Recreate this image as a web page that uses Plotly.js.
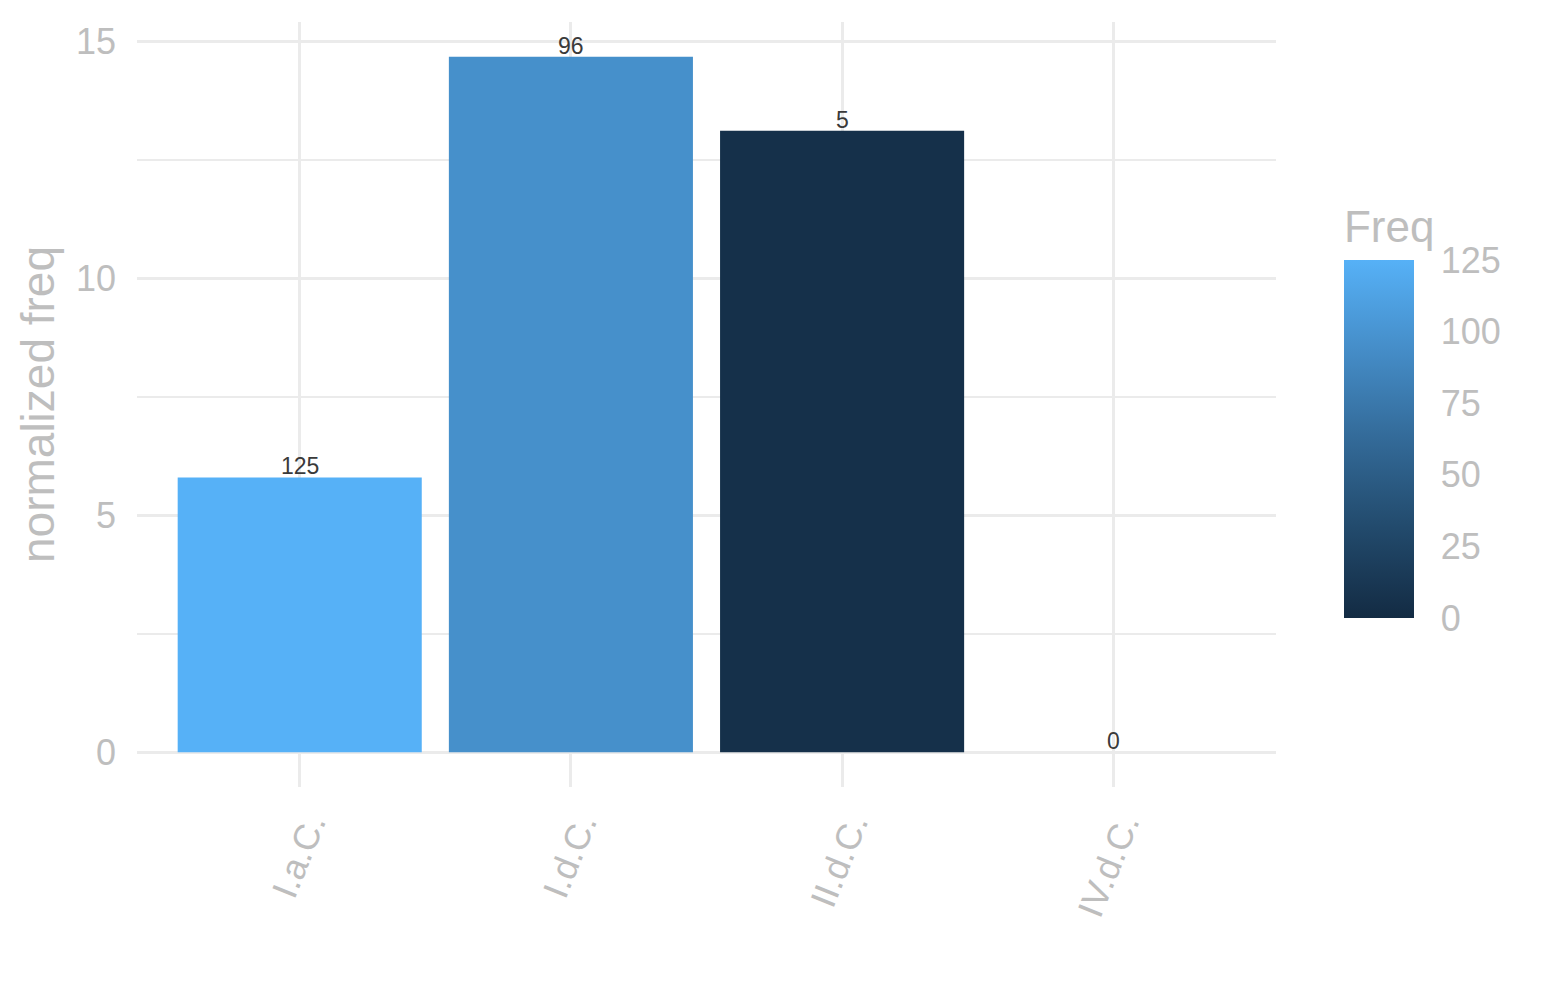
<!doctype html>
<html lang="en">
<head>
    <meta charset="UTF-8">
    <title>normalized freq</title>
    <script src="https://cdn.plot.ly/plotly-3.0.1.min.js"></script>
    <style>
        body { margin: 0; background: white; }
        #chart { width: 1545px; height: 1000px; }
    </style>
</head>
<body>
    <div id="chart"></div>
    <script>
        // data
        var categories = ["I.a.C.", "I.d.C.", "II.d.C.", "IV.d.C."];
        var normFreq = [5.80, 14.68, 13.12, 0];
        var freq = [125, 96, 5, 0];
        var freqTicks = [0, 25, 50, 75, 100, 125];

        var grey = "#BEBEBE";
        var grid = "#EBEBEB";
        var font = "Liberation Sans, Arial, sans-serif";

        // ggplot-ish default blue gradient
        var scale = [
            [0, "#132B43"],
            [0.25, "#224A6C"],
            [0.5, "#336A98"],
            [0.75, "#458DC8"],
            [1, "#56B1F7"]
        ];

        var bars = {
            type: "bar",
            x: categories,
            y: normFreq,
            width: 0.9,
            marker: {
                color: freq,
                colorscale: scale,
                cmin: 0,
                cmax: 125,
                line: { width: 0 },
                colorbar: {
                    title: { text: "Freq", side: "top", font: { size: 44, color: grey, family: font } },
                    thickness: 70,
                    thicknessmode: "pixels",
                    len: 412,
                    lenmode: "pixels",
                    x: 1.0597,
                    xanchor: "left",
                    y: 0.2209,
                    yanchor: "bottom",
                    xpad: 0,
                    ypad: 0,
                    outlinewidth: 0,
                    tickvals: freqTicks,
                    ticks: "outside",
                    ticklen: 20,
                    tickcolor: "rgba(0,0,0,0)",
                    tickfont: { size: 36, color: grey, family: font }
                }
            },
            hoverinfo: "skip"
        };

        // value labels sitting on top of each bar
        var notes = categories.map(function (c, i) {
            return {
                x: c, y: normFreq[i], text: String(freq[i]),
                xref: "x", yref: "y",
                yanchor: "bottom", yshift: -4,
                showarrow: false,
                font: { size: 23, color: "#3A3A3A", family: font }
            };
        });

        var layout = {
            width: 1545,
            height: 1000,
            margin: { l: 137, r: 269, t: 22, b: 213 },
            paper_bgcolor: "white",
            plot_bgcolor: "white",
            showlegend: false,
            font: { family: font, color: grey },
            annotations: notes,
            xaxis: {
                type: "category",
                range: [-0.6, 3.6],
                showgrid: true,
                gridcolor: grid,
                gridwidth: 3,
                zeroline: false,
                showline: false,
                ticks: "",
                tickangle: -68,
                ticklabelstandoff: 8,
                ticklabelshift: 10,
                tickfont: { size: 36, color: grey, family: font }
            },
            yaxis: {
                range: [-0.734, 15.414],
                tickvals: [0, 5, 10, 15],
                showgrid: true,
                gridcolor: grid,
                gridwidth: 3,
                minor: { tickvals: [2.5, 7.5, 12.5], showgrid: true, gridcolor: grid, gridwidth: 1.5 },
                zeroline: false,
                showline: false,
                ticks: "",
                ticklabelstandoff: 20,
                tickfont: { size: 36, color: grey, family: font },
                title: { text: "normalized freq", font: { size: 46, color: grey, family: font }, standoff: 6 }
            }
        };

        Plotly.newPlot("chart", [bars], layout, { staticPlot: true });
    </script>
</body>
</html>
